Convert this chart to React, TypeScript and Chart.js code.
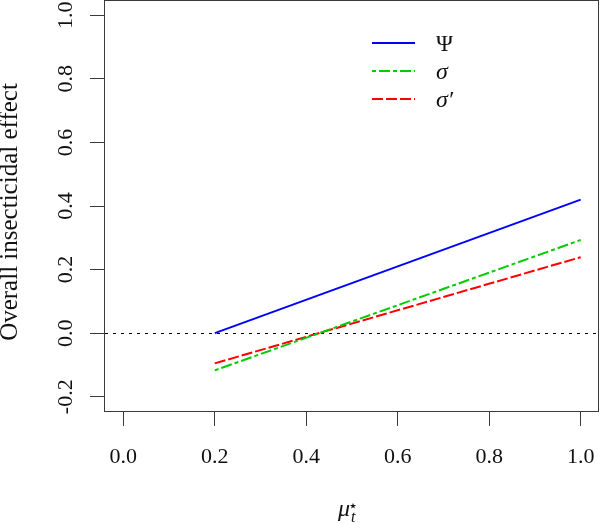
import React, { useEffect, useRef } from "react";
import { Chart, registerables } from "chart.js";

Chart.register(...registerables);

// ---- data ----
const xValues = [0.2, 1.0];
const psiValues = [0.0, 0.42];
const sigmaValues = [-0.117, 0.293];
const sigmaPrimeValues = [-0.095, 0.239];
const xTicks = [0, 0.2, 0.4, 0.6, 0.8, 1.0];
const yTicks = [-0.2, 0, 0.2, 0.4, 0.6, 0.8, 1.0];
const seriesLabels = ["Ψ", "σ", "σ′"];
const yTitle = "Overall insecticidal effect";
const xLimits = [-0.04, 1.04];
const yLimits = [-0.248, 1.048];

const FONT = "'Liberation Serif', 'DejaVu Serif', serif";
const LINE_COLOR = "#3a3a3a";

const seriesStyles = [
  { color: "#0000FF", dash: [] as number[] },
  { color: "#00CD00", dash: [4, 3, 11, 3] },
  { color: "#FF0000", dash: [11, 3] },
];

const toPoints = (ys: number[]) => xValues.map((x, i) => ({ x, y: ys[i] }));

const decorPlugin = {
  id: "decor",
  beforeDatasetsDraw(chart: any) {
    const { ctx, chartArea, scales } = chart;
    const y0 = Math.round(scales.y.getPixelForValue(0)) + 0.5;
    ctx.save();
    ctx.strokeStyle = "#000";
    ctx.lineWidth = 1;
    ctx.setLineDash([3, 5]);
    ctx.beginPath();
    ctx.moveTo(chartArea.left, y0);
    ctx.lineTo(chartArea.right, y0);
    ctx.stroke();
    ctx.restore();
  },
  afterDraw(chart: any) {
    const { ctx, chartArea, scales } = chart;
    ctx.save();
    // box
    ctx.strokeStyle = LINE_COLOR;
    ctx.lineWidth = 1;
    ctx.setLineDash([]);
    ctx.strokeRect(
      Math.round(chartArea.left) - 0.5,
      0.5,
      Math.round(chartArea.right - chartArea.left),
      Math.round(chartArea.bottom) - 1
    );

    ctx.fillStyle = "#111";
    ctx.font = `22px ${FONT}`;
    // x tick labels
    ctx.textAlign = "center";
    ctx.textBaseline = "alphabetic";
    xTicks.forEach((v) => {
      ctx.fillText(v.toFixed(1), scales.x.getPixelForValue(v), 463);
    });
    // y tick labels (rotated)
    yTicks.forEach((v) => {
      const py = scales.y.getPixelForValue(v);
      ctx.save();
      ctx.translate(72, py);
      ctx.rotate(-Math.PI / 2);
      ctx.fillText(v.toFixed(1), 0, 0);
      ctx.restore();
    });
    // y title
    ctx.save();
    ctx.font = `25px ${FONT}`;
    ctx.translate(17, 212);
    ctx.rotate(-Math.PI / 2);
    ctx.fillText(yTitle, 0, 0);
    ctx.restore();

    // x title: mu_t^star
    ctx.textAlign = "left";
    ctx.font = `italic 24px ${FONT}`;
    ctx.fillText("μ", 338, 516);
    ctx.font = `italic 16px ${FONT}`;
    ctx.fillText("t", 351, 522);
    ctx.font = `16px 'DejaVu Sans', sans-serif`;
    ctx.fillText("⋆", 348, 511);

    // legend
    const legendY = [43, 71, 99];
    seriesStyles.forEach((s, i) => {
      ctx.strokeStyle = s.color;
      ctx.lineWidth = 2;
      ctx.setLineDash(s.dash);
      ctx.beginPath();
      ctx.moveTo(372, legendY[i]);
      ctx.lineTo(415, legendY[i]);
      ctx.stroke();
      ctx.setLineDash([]);
      ctx.fillStyle = "#111";
      ctx.font = i === 0 ? `23px ${FONT}` : `italic 24px ${FONT}`;
      ctx.fillText(seriesLabels[i], 436, legendY[i] + 8);
    });
    ctx.restore();
  },
};

export default function App() {
  const ref = useRef<HTMLCanvasElement | null>(null);
  useEffect(() => {
    document.body.style.margin = "0";
    const canvas = ref.current;
    if (!canvas) return;
    const seriesData = [psiValues, sigmaValues, sigmaPrimeValues];
    const chart = new Chart(canvas, {
      type: "line",
      data: {
        datasets: seriesData.map((ys, i) => ({
          label: seriesLabels[i],
          data: toPoints(ys),
          borderColor: seriesStyles[i].color,
          backgroundColor: seriesStyles[i].color,
          borderDash: seriesStyles[i].dash,
          borderWidth: 2,
          pointRadius: 0,
          fill: false,
          tension: 0,
        })),
      },
      options: {
        responsive: false,
        animation: false,
        devicePixelRatio: 1,
        layout: { padding: { top: 0, right: 1, left: 0, bottom: 0 } },
        plugins: { legend: { display: false }, tooltip: { enabled: false } },
        scales: {
          x: {
            type: "linear",
            min: xLimits[0],
            max: xLimits[1],
            afterBuildTicks: (axis: any) => {
              axis.ticks = xTicks.map((v) => ({ value: v }));
            },
            afterFit: (s: any) => {
              s.height = 111;
            },
            grid: {
              display: true,
              drawOnChartArea: false,
              drawTicks: true,
              tickLength: 14,
              color: LINE_COLOR,
            },
            border: { display: false },
            ticks: { display: false },
          },
          y: {
            type: "linear",
            min: yLimits[0],
            max: yLimits[1],
            afterBuildTicks: (axis: any) => {
              axis.ticks = yTicks.map((v) => ({ value: v }));
            },
            afterFit: (s: any) => {
              s.width = 105;
            },
            grid: {
              display: true,
              drawOnChartArea: false,
              drawTicks: true,
              tickLength: 15,
              color: LINE_COLOR,
            },
            border: { display: false },
            ticks: { display: false },
          },
        },
      },
      plugins: [decorPlugin],
    });
    return () => chart.destroy();
  }, []);
  return <canvas ref={ref} width={600} height={523} style={{ display: "block" }} />;
}
